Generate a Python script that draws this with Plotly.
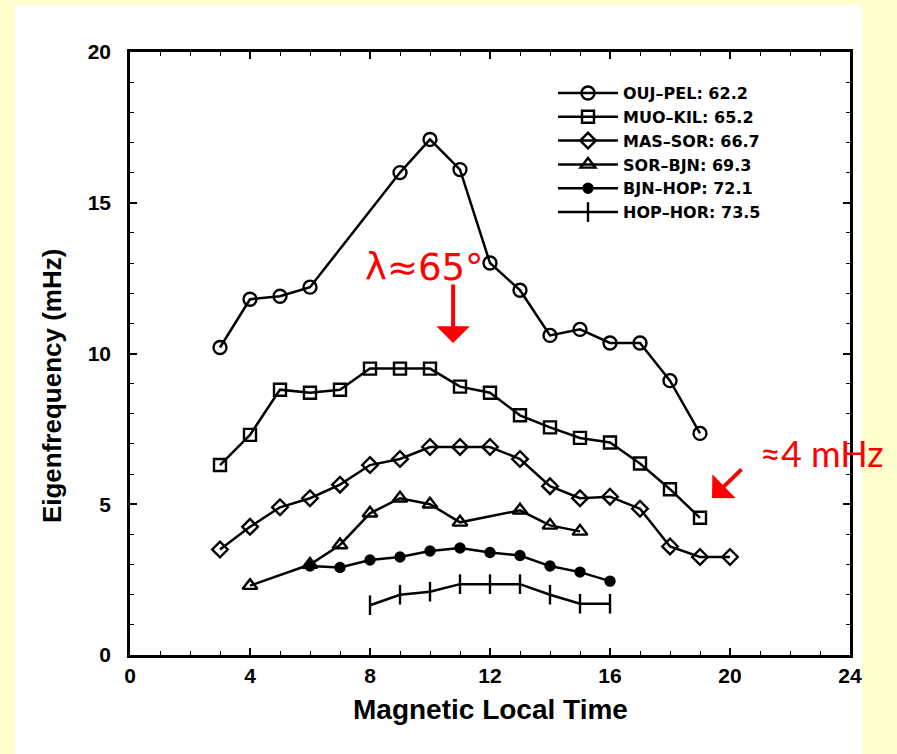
import plotly.graph_objects as go

# ---- data ----
names = ["OUJ\u2013PEL: 62.2", "MUO\u2013KIL: 65.2", "MAS\u2013SOR: 66.7",
         "SOR\u2013BJN: 69.3", "BJN\u2013HOP: 72.1", "HOP\u2013HOR: 73.5"]

ouj_x = [3, 4, 5, 6, 9, 10, 11, 12, 13, 14, 15, 16, 17, 18, 19]
ouj_y = [10.2, 11.8, 11.9, 12.2, 16.0, 17.1, 16.1, 13.0, 12.1, 10.6, 10.8, 10.35, 10.35, 9.1, 7.35]

muo_x = [3, 4, 5, 6, 7, 8, 9, 10, 11, 12, 13, 14, 15, 16, 17, 18, 19]
muo_y = [6.3, 7.3, 8.8, 8.7, 8.8, 9.5, 9.5, 9.5, 8.9, 8.7, 7.95, 7.55, 7.2, 7.05, 6.35, 5.5, 4.55]

mas_x = [3, 4, 5, 6, 7, 8, 9, 10, 11, 12, 13, 14, 15, 16, 17, 18, 19, 20]
mas_y = [3.5, 4.25, 4.9, 5.2, 5.65, 6.3, 6.5, 6.9, 6.9, 6.9, 6.5, 5.6, 5.2, 5.25, 4.85, 3.6, 3.25, 3.25]

sor_x = [4, 6, 7, 8, 9, 10, 11, 13, 14, 15]
sor_y = [2.3, 3.0, 3.65, 4.7, 5.2, 5.0, 4.4, 4.8, 4.3, 4.1]

bjn_x = [6, 7, 8, 9, 10, 11, 12, 13, 14, 15, 16]
bjn_y = [2.95, 2.9, 3.15, 3.25, 3.45, 3.55, 3.4, 3.3, 2.95, 2.75, 2.45]

hop_x = [8, 9, 10, 11, 12, 13, 14, 15, 16]
hop_y = [1.65, 2.0, 2.1, 2.35, 2.35, 2.35, 2.0, 1.7, 1.7]

xs = [ouj_x, muo_x, mas_x, sor_x, bjn_x, hop_x]
ys = [ouj_y, muo_y, mas_y, sor_y, bjn_y, hop_y]

x_ticks = [0, 4, 8, 12, 16, 20, 24]
y_ticks = [0, 5, 10, 15, 20]

# ---- styles ----
symbols = ["circle-open", "square-open", "diamond-open", "triangle-up-open", "circle", "line-ns"]
sizes = [13, 12, 12, 13, 9, 14]

fig = go.Figure()
for nm, x, y, sym, sz in zip(names, xs, ys, symbols, sizes):
    fig.add_trace(go.Scatter(
        x=x, y=y, name=nm, mode="lines+markers",
        line=dict(color="black", width=2.5),
        marker=dict(symbol=sym, size=sz, color="black",
                    line=dict(color="black", width=2.4)),
        cliponaxis=False,
    ))

tickfont = dict(family="Liberation Sans, Arial, sans-serif", size=21, color="black", weight="bold")

fig.update_layout(
    width=897, height=754,
    margin=dict(l=130, r=47, t=52, b=99),
    paper_bgcolor="#FFFFCC",
    plot_bgcolor="white",
    showlegend=True,
    legend=dict(
        x=0.5875, y=0.96, xanchor="left", yanchor="top",
        bgcolor="rgba(0,0,0,0)",
        font=dict(family="DejaVu Sans, sans-serif", size=16, color="black", weight="bold"),
        tracegroupgap=0, itemwidth=60,
    ),
    xaxis=dict(
        range=[0, 24], tickvals=x_ticks, ticktext=[str(v) for v in x_ticks],
        ticks="inside", ticklen=7, tickwidth=1.5, tickcolor="black",
        minor=dict(dtick=1, ticks="inside", ticklen=4, tickcolor="black", tickwidth=1),
        showline=True, linecolor="black", linewidth=2.5, mirror="allticks",
        showgrid=False, zeroline=False,
        tickfont=tickfont,
    ),
    yaxis=dict(
        range=[0, 20], tickvals=y_ticks, ticktext=[str(v) for v in y_ticks],
        ticks="inside", ticklen=7, tickwidth=1.5, tickcolor="black",
        minor=dict(dtick=1, ticks="inside", ticklen=4, tickcolor="black", tickwidth=1),
        showline=True, linecolor="black", linewidth=2.5, mirror="allticks",
        showgrid=False, zeroline=False,
        tickfont=tickfont,
        ticklabelstandoff=12,
    ),
    shapes=[dict(type="rect", xref="paper", yref="paper",
                 x0=-0.1597, x1=1.0167, y0=-0.17, y1=1.078,
                 fillcolor="white", line=dict(width=0), layer="below")],
    annotations=[
        dict(text="Magnetic Local Time", xref="paper", yref="paper", x=0.5, y=-0.0912,
             xanchor="center", yanchor="middle", showarrow=False,
             font=dict(family="Liberation Sans, Arial, sans-serif", size=28, color="black", weight="bold")),
        dict(text="Eigenfrequency (mHz)", xref="paper", yref="paper", x=-0.1083, y=0.446,
             xanchor="center", yanchor="middle", showarrow=False, textangle=-90,
             font=dict(family="Liberation Sans, Arial, sans-serif", size=26, color="black", weight="bold")),
        dict(text="\u03bb\u224865\u00b0", x=9.8, y=12.84, xref="x", yref="y", showarrow=False,
             font=dict(family="DejaVu Sans, sans-serif", size=37, color="red")),
        dict(text="", x=10.77, y=10.35, xref="x", yref="y", showarrow=True,
             ax=0, ay=-60, arrowhead=1, arrowsize=1.4, arrowwidth=4, arrowcolor="red"),
        dict(text="\u22484 mHz", x=23.07, y=6.7, xref="x", yref="y", showarrow=False,
             font=dict(family="Lato, Open Sans, sans-serif", size=36, color="red")),
        dict(text="", x=19.4, y=5.21, xref="x", yref="y", showarrow=True,
             ax=31, ay=-30, arrowhead=1, arrowsize=1.4, arrowwidth=4, arrowcolor="red"),
    ],
)

fig.write_html("out.html")
